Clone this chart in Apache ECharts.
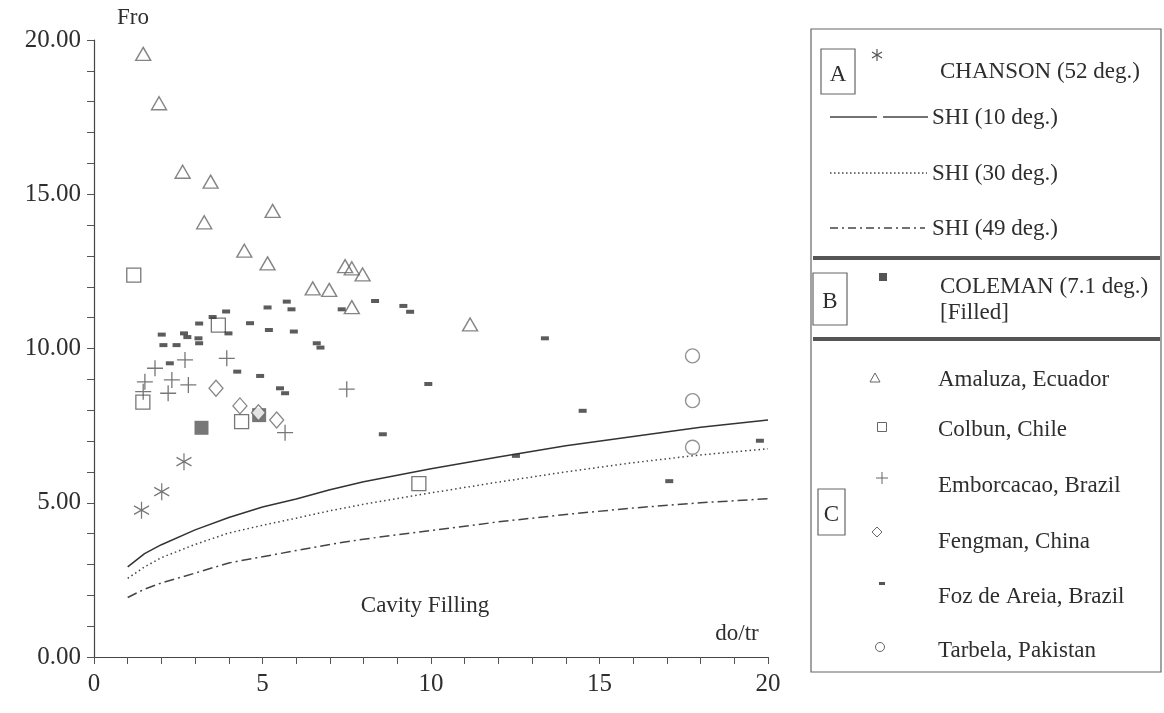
<!DOCTYPE html>
<html><head><meta charset="utf-8">
<script src="https://cdn.jsdelivr.net/npm/echarts@6/dist/echarts.min.js"></script>
<style>html,body{margin:0;padding:0;background:#fff}#c{width:1164px;height:713px}</style>
</head><body><div id="c"></div>
<script>
// ---- data ----
const xTicks = [0, 5, 10, 15, 20];
const yTicks = [0, 5, 10, 15, 20];
const shiX = [1, 1.5, 2, 3, 4, 5, 6, 7, 8, 10, 12, 14, 16, 18, 20];
const shi10 = [2.92, 3.35, 3.64, 4.12, 4.52, 4.86, 5.12, 5.42, 5.68, 6.10, 6.48, 6.85, 7.15, 7.45, 7.68];
const shi30 = [2.55, 2.92, 3.22, 3.65, 4.02, 4.27, 4.50, 4.74, 4.95, 5.32, 5.67, 6.00, 6.30, 6.55, 6.75];
const shi49 = [1.93, 2.20, 2.40, 2.72, 3.05, 3.25, 3.45, 3.65, 3.82, 4.10, 4.38, 4.62, 4.83, 5.00, 5.13];
const chanson = [[1.41, 4.76], [2.01, 5.36], [2.67, 6.33]];
const coleman = [[3.19, 7.43], [4.90, 7.84]];
const amaluza = [[1.46, 19.55], [1.93, 17.95], [2.63, 15.73], [3.46, 15.41], [3.27, 14.09], [5.30, 14.46],
  [4.46, 13.17], [5.15, 12.76], [6.49, 11.95], [6.98, 11.90], [7.45, 12.67], [7.65, 12.60], [7.97, 12.40],
  [7.65, 11.34], [11.16, 10.78]];
const colbun = [[1.18, 12.38], [1.45, 8.26], [3.69, 10.76], [4.38, 7.63], [9.64, 5.62]];
const emborcacao = [[1.46, 8.60], [1.51, 8.92], [1.81, 9.36], [2.20, 8.55], [2.31, 8.98], [2.70, 9.63],
  [2.80, 8.82], [3.94, 9.68], [5.67, 7.27], [7.50, 8.68]];
const fengman = [[3.62, 8.71], [4.33, 8.14], [4.88, 7.92], [5.42, 7.68]];
const fozDeAreia = [[2.01, 10.45], [2.67, 10.49], [2.77, 10.37], [3.10, 10.33], [3.12, 10.17], [2.06, 10.11],
  [2.45, 10.11], [3.12, 10.81], [3.52, 11.02], [3.92, 11.20], [3.99, 10.49], [4.63, 10.82], [5.15, 11.33],
  [5.72, 11.52], [5.86, 11.27], [5.19, 10.60], [5.93, 10.55], [4.25, 9.25], [4.93, 9.11], [5.52, 8.71],
  [5.67, 8.55], [6.61, 10.17], [6.72, 10.03], [7.35, 11.27], [8.34, 11.54], [9.18, 11.38], [9.38, 11.19],
  [9.92, 8.85], [8.57, 7.22], [13.38, 10.33], [14.50, 7.98], [12.52, 6.52], [17.07, 5.70], [19.76, 7.01],
  [2.25, 9.52]];
const tarbela = [[17.76, 9.76], [17.76, 8.31], [17.76, 6.80]];
const legendRowsA = ['CHANSON (52 deg.)', 'SHI (10 deg.)', 'SHI (30 deg.)', 'SHI (49 deg.)'];
const legendRowsC = ['Amaluza, Ecuador', 'Colbun, Chile', 'Emborcacao, Brazil', 'Fengman, China', 'Foz de Areia, Brazil', 'Tarbela, Pakistan'];

// ---- chart ----
const FONT = 'Liberation Serif';
const INK = '#2e2e2e';
const TXT = 23;
const chart = echarts.init(document.getElementById('c'), null, {renderer: 'canvas'});
const pair = (xs, ys) => xs.map((x, i) => [x, ys[i]]);
const hollow = (sym, size, extra) => Object.assign({
  type: 'scatter', symbol: sym, symbolSize: size,
  itemStyle: {color: 'rgba(255,255,255,0)', borderColor: '#555', borderWidth: 1.3}, z: 5
}, extra || {});

const tStyle = (txt, x, y, size, extra) => ({
  type: 'text', x: x, y: y,
  style: Object.assign({text: txt, font: (size || TXT) + 'px "' + FONT + '"', fill: INK, textVerticalAlign: 'middle'}, extra || {})
});
const lineEl = (x1, y1, x2, y2, w, dash, col) => ({
  type: 'line', shape: {x1: x1, y1: y1, x2: x2, y2: y2},
  style: {stroke: col || '#444', lineWidth: w || 1.3, lineDash: dash || null}
});

const rowYA = [72, 118, 174, 229];
const rowYC = [380, 430, 486, 542, 597, 651];
const els = [];
// legend frame
els.push({type: 'rect', shape: {x: 811, y: 29, width: 350, height: 643}, style: {fill: 'none', stroke: '#666', lineWidth: 1.2}});
els.push(lineEl(813, 258, 1160, 258, 4, null, '#555'));
els.push(lineEl(813, 339, 1160, 339, 4, null, '#555'));
// A/B/C boxes
[[821, 49, 34, 45, 'A'], [813, 273, 34, 52, 'B'], [818, 489, 27, 46, 'C']].forEach(b => {
  els.push({type: 'rect', shape: {x: b[0], y: b[1], width: b[2], height: b[3]}, style: {fill: 'none', stroke: '#666', lineWidth: 1.2}});
  els.push(tStyle(b[4], b[0] + b[2] / 2, b[1] + b[3] / 2 + 3, TXT, {textAlign: 'center'}));
});
// A rows
els.push(tStyle(legendRowsA[0], 940, rowYA[0]));
for (let i = 1; i < 4; i++) els.push(tStyle(legendRowsA[i], 932, rowYA[i]));
els.push(lineEl(877, 49, 877, 61, 1.2, null, '#555'));
els.push(lineEl(872, 52, 882, 58, 1.2, null, '#555'));
els.push(lineEl(872, 58, 882, 52, 1.2, null, '#555'));
els.push(lineEl(830, 117, 877, 117, 1.4));
els.push(lineEl(883, 117, 928, 117, 1.4));
els.push(lineEl(830, 173, 927, 173, 1.3, [1.5, 2.5]));
els.push(lineEl(830, 228, 925, 228, 1.3, [8, 4, 2, 4]));
// B rows
els.push(tStyle('COLEMAN (7.1 deg.)', 940, 287));
els.push(tStyle('[Filled]', 940, 313));
els.push({type: 'rect', shape: {x: 879, y: 273, width: 8, height: 8}, style: {fill: '#555'}});
// C rows
legendRowsC.forEach((t, i) => els.push(tStyle(t, 938, rowYC[i])));
els.push({type: 'polygon', shape: {points: [[875, 373], [870, 382], [880, 382]]}, style: {fill: 'none', stroke: '#666', lineWidth: 1}});
els.push({type: 'rect', shape: {x: 877.5, y: 422.5, width: 9, height: 9}, style: {fill: 'none', stroke: '#666', lineWidth: 1}});
els.push(lineEl(882, 472, 882, 484, 1, null, '#666'));
els.push(lineEl(876, 478, 888, 478, 1, null, '#666'));
els.push({type: 'polygon', shape: {points: [[877, 527], [882, 532], [877, 537], [872, 532]]}, style: {fill: 'none', stroke: '#666', lineWidth: 1}});
els.push({type: 'rect', shape: {x: 879, y: 582, width: 6, height: 3}, style: {fill: '#555'}});
els.push({type: 'circle', shape: {cx: 880, cy: 647, r: 4.5}, style: {fill: 'none', stroke: '#666', lineWidth: 1}});
// plot texts
els.push(tStyle('Fro', 117, 18));
els.push(tStyle('Cavity Filling', 425, 606, TXT, {textAlign: 'center'}));
els.push(tStyle('do/tr', 737, 634, TXT, {textAlign: 'center'}));

const axisCommon = {
  type: 'value', min: 0, max: 20, interval: 5,
  axisLine: {show: true, lineStyle: {color: '#444', width: 1.2}},
  axisTick: {show: true, inside: false, length: 7, lineStyle: {color: '#555'}},
  minorTick: {show: true, splitNumber: 5, length: 7, lineStyle: {color: '#555'}},
  splitLine: {show: false},
  axisLabel: {fontFamily: FONT, fontSize: 25, color: INK}
};

chart.setOption({
  animation: false,
  backgroundColor: '#fff',
  grid: {left: 94, right: 396, top: 40, bottom: 56, containLabel: false},
  xAxis: Object.assign({}, axisCommon, {
    axisLabel: Object.assign({}, axisCommon.axisLabel, {margin: 15, formatter: v => xTicks.includes(v) ? String(v) : ''})
  }),
  yAxis: Object.assign({}, axisCommon, {
    axisLabel: Object.assign({}, axisCommon.axisLabel, {margin: 13, formatter: v => yTicks.includes(v) ? v.toFixed(2) : ''})
  }),
  series: [
    {name: 'SHI (10 deg.)', type: 'line', data: pair(shiX, shi10), showSymbol: false, lineStyle: {color: '#333', width: 1.5}, z: 3},
    {name: 'SHI (30 deg.)', type: 'line', data: pair(shiX, shi30), showSymbol: false, lineStyle: {color: '#444', width: 1.5, type: [1.5, 3]}, z: 3},
    {name: 'SHI (49 deg.)', type: 'line', data: pair(shiX, shi49), showSymbol: false, lineStyle: {color: '#444', width: 1.5, type: [10, 4, 2, 4]}, z: 3},
    hollow('path://M0,-1L0,1M-0.87,-0.5L0.87,0.5M-0.87,0.5L0.87,-0.5', [15, 17], {name: 'CHANSON (52 deg.)', data: chanson}),
    {name: 'COLEMAN (7.1 deg.)', type: 'scatter', symbol: 'rect', symbolSize: 14, data: coleman, itemStyle: {color: '#555'}, z: 4},
    hollow('triangle', [15, 13], {name: 'Amaluza, Ecuador', data: amaluza, itemStyle: {color: 'rgba(255,255,255,0)', borderColor: '#666', borderWidth: 1.4}}),
    hollow('rect', 14, {name: 'Colbun, Chile', data: colbun}),
    hollow('path://M0,-1L0,1M-1,0L1,0', 16, {name: 'Emborcacao, Brazil', data: emborcacao}),
    hollow('diamond', [14, 16], {name: 'Fengman, China', data: fengman, itemStyle: {color: '#fff', borderColor: '#666', borderWidth: 1.3}, z: 6}),
    {name: 'Foz de Areia, Brazil', type: 'scatter', symbol: 'rect', symbolSize: [8, 4], data: fozDeAreia, itemStyle: {color: '#333'}, z: 5},
    hollow('circle', 14, {name: 'Tarbela, Pakistan', data: tarbela, itemStyle: {color: 'rgba(255,255,255,0)', borderColor: '#777', borderWidth: 1.4}})
  ],
  graphic: {elements: els}
});
</script></body></html>
